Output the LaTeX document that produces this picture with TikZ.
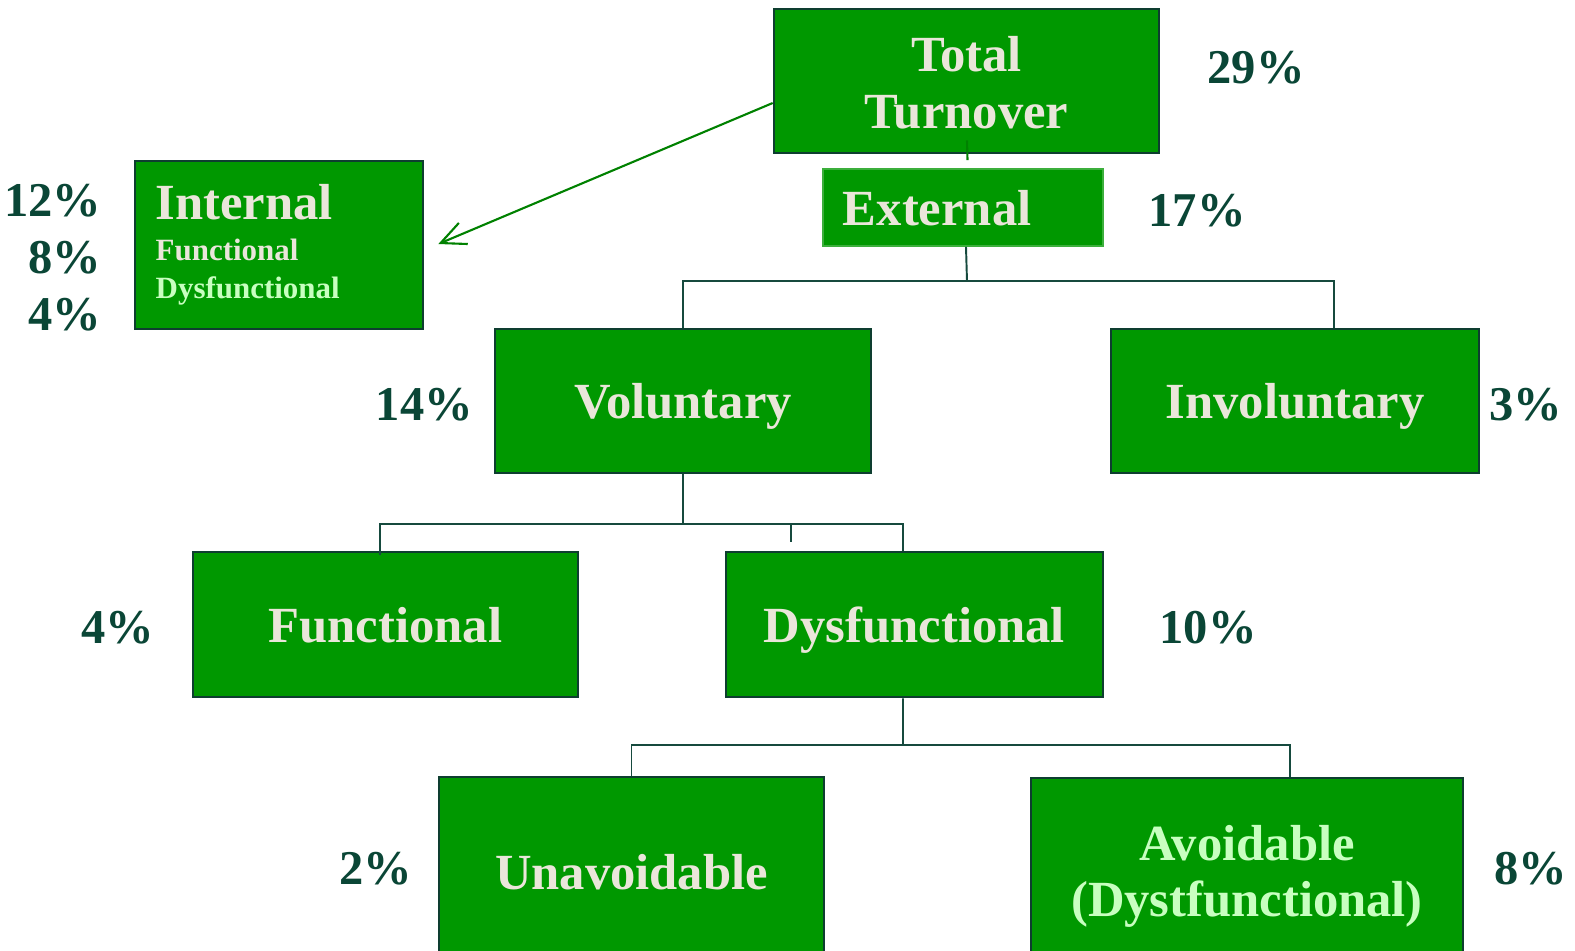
\documentclass[tikz,border=0pt]{standalone}
\usepackage{fontspec}
\setmainfont{Liberation Serif}
\usetikzlibrary{arrows.meta,calc}
\definecolor{boxg}{RGB}{0,152,0}
\definecolor{bord}{RGB}{14,62,48}
\definecolor{beige}{RGB}{234,230,218}
\definecolor{lightg}{RGB}{200,255,192}
\definecolor{pct}{RGB}{10,70,54}
\definecolor{conn}{RGB}{22,74,62}
\definecolor{extb}{RGB}{60,175,60}
\tikzset{
  gbox/.style={rectangle, fill=boxg, draw=bord, line width=0.7pt, text=beige,
    font=\fontsize{14.4}{16.2}\selectfont\bfseries, align=center, inner sep=0pt},
  one/.style={text depth=0pt},
  intext/.style={anchor=base west, inner sep=0pt, text=beige, font=\bfseries},
  pctlab/.style={text=pct, font=\fontsize{13.8}{16}\selectfont\bfseries, inner sep=0pt},
  conline/.style={draw=conn, line width=0.55pt},
  gline/.style={draw=boxg!85!black, line width=0.6pt},
}
\begin{document}
\begin{tikzpicture}[x=0.01cm, y=-0.01cm]
\useasboundingbox (0,0) rectangle (1575,950);
% boxes
\node[gbox, minimum width=3.85cm, minimum height=1.44cm] (tt) at (966.5,81) {\rule{0pt}{15.5pt}Total\\[0pt]\strut Turnover};
\node[gbox, one, draw=extb, line width=0.5pt, minimum width=2.8cm, minimum height=0.77cm, text width=2.4cm, align=left] (ext) at (963,207.5) {External};
\node[gbox, minimum width=2.88cm, minimum height=1.68cm] (int) at (279,245) {};
\node[intext, font=\fontsize{14.4}{16}\selectfont\bfseries] (intA) at (155,219) {Internal};
\node[intext, font=\fontsize{8.8}{10}\selectfont\bfseries] (intB) at (155,260) {Functional};
\node[intext, font=\fontsize{8.8}{10}\selectfont\bfseries, text=lightg] (intC) at (155,298) {Dysfunctional};
\node[gbox, one, minimum width=3.76cm, minimum height=1.44cm] (vol) at (683,401) {Voluntary};
\node[gbox, one, minimum width=3.68cm, minimum height=1.44cm] (inv) at (1295,401) {Involuntary};
\node[gbox, one, minimum width=3.85cm, minimum height=1.45cm] (fun) at (385.5,624.5) {Functional};
\node[gbox, one, minimum width=3.77cm, minimum height=1.45cm] (dys) at (914.5,624.5) {Dysfunctional};
\node[gbox, one, minimum width=3.85cm, minimum height=1.9cm] (una) at (631.5,872) {Unavoidable};
\node[gbox, minimum width=4.32cm, minimum height=1.9cm, text=lightg] (avo) at (1247,873) {\rule{0pt}{13.6pt}Avoidable\\[-0.3pt]\strut (Dystfunctional)};
% percentages
\node[pctlab] (p29) at (1256,68) {29\%};
\node[pctlab] (p17) at (1197,211) {17\%};
\node[pctlab, anchor=east] (p12) at (102,201) {12\%};
\node[pctlab, anchor=east] (p8a) at (102,258) {8\%};
\node[pctlab, anchor=east] (p4a) at (102,315) {4\%};
\node[pctlab] (p14) at (424.5,405) {14\%};
\node[pctlab] (p3) at (1526,405) {3\%};
\node[pctlab] (p4b) at (118,628) {4\%};
\node[pctlab] (p10) at (1208,628) {10\%};
\node[pctlab] (p2) at (375.5,869) {2\%};
\node[pctlab] (p8b) at (1530.5,869) {8\%};
% connectors
\draw[gline] ([xshift=0.005cm,yshift=0.14cm]tt.south) -- ([xshift=0.045cm,yshift=0.08cm]ext.north);
\draw[gline, -{Straight Barb[length=7pt,width=6.5pt]}] ([yshift=-0.22cm]tt.west) -- ([xshift=0.14cm,yshift=0.01cm]int.east);
\coordinate (b1) at (967,281);
\draw[conline] ([xshift=0.03cm]ext.south) -- (b1);
\draw[conline] (vol.north) |- (b1);
\draw[conline] (b1) -| ([xshift=0.39cm]inv.north);
\coordinate (b2) at (683,525);
\draw[conline] (vol.south) -- (b2);
\draw[conline] ([xshift=-0.055cm,yshift=-0.04cm]fun.north) -- ++(0,-31) -| ([xshift=-0.115cm]dys.north);
\coordinate (stub) at (791,525);
\draw[conline] (stub) -- ++(0,17);
\coordinate (b3) at (903,745);
\draw[conline] ([xshift=-0.115cm]dys.south) -- (b3);
\draw[conline] (una.north) |- (b3);
\draw[conline] (b3) -| ([xshift=0.43cm]avo.north);
\end{tikzpicture}
\end{document}
